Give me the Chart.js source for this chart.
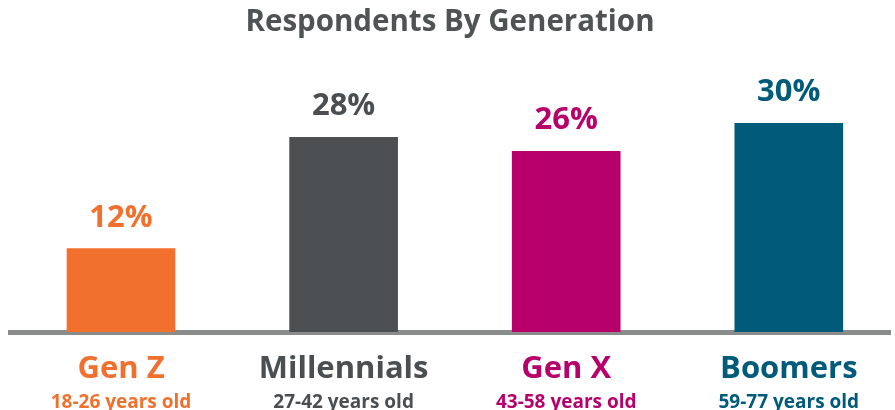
<!DOCTYPE html>
<html>
<head>
<meta charset="utf-8">
<script src="https://cdn.jsdelivr.net/npm/chart.js@4"></script>
<style>
  html, body { margin: 0; padding: 0; background: #fff; }
  #wrap { width: 895px; height: 410px; }
</style>
</head>
<body>
<div id="wrap"><canvas id="genChart"></canvas></div>
<script>
const generations = ['Gen Z', 'Millennials', 'Gen X', 'Boomers'];
const ageRanges = ['18-26 years old', '27-42 years old', '43-58 years old', '59-77 years old'];
const shares = [12, 28, 26, 30];
const barColors = ['#F2702D', '#4B4F51', '#B8006A', '#005A7A'];

const FONT = "'Open Sans', sans-serif";

// etiquetas de valor y de categoria dibujadas a mano
const labelsPlugin = {
    id: 'genLabels',
    afterDraw(chart) {
        const ctx = chart.ctx;
        const meta = chart.getDatasetMeta(0);
        ctx.save();
        ctx.textAlign = 'center';
        ctx.textBaseline = 'alphabetic';
        meta.data.forEach((bar, i) => {
            ctx.fillStyle = barColors[i];
            ctx.font = `700 31px ${FONT}`;
            ctx.fillText(shares[i] + '%', bar.x, bar.y - 22);
            ctx.font = `700 31px ${FONT}`;
            ctx.fillText(generations[i], bar.x, 378);
            ctx.font = `700 19px ${FONT}`;
            ctx.fillText(ageRanges[i], bar.x, 408);
        });
        ctx.restore();
    }
};

new Chart(document.getElementById('genChart'), {
    type: 'bar',
    data: {
        datasets: [{
            data: shares.map((v, i) => ({ x: i, y: v })),
            backgroundColor: barColors,
            barThickness: 108,
            borderWidth: 0
        }]
    },
    options: {
        responsive: true,
        maintainAspectRatio: false,
        animation: false,
        layout: { padding: { left: 10, right: 5, bottom: 70, top: 0 } },
        plugins: {
            legend: { display: false },
            tooltip: { enabled: false },
            title: {
                display: true,
                text: 'Respondents By Generation',
                color: '#505354',
                font: { family: FONT, size: 29.5, weight: '700' },
                padding: { top: 5, bottom: 13.5 }
            }
        },
        scales: {
            x: {
                type: 'linear',
                offset: false,
                min: -0.4987,
                max: 3.4546,
                grid: { display: false },
                ticks: { display: false },
                border: { display: true, color: '#8A8C8C', width: 5 }
            },
            y: {
                display: false,
                min: 0,
                max: 40
            }
        }
    },
    plugins: [labelsPlugin]
});
</script>
</body>
</html>
